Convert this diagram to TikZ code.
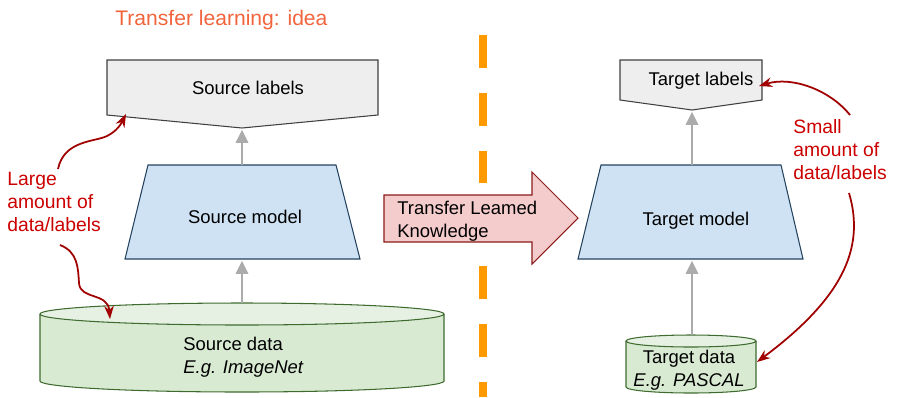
\documentclass[tikz,border=0pt]{standalone}
\usepackage{fontspec}
\setmainfont{Liberation Sans}
\usetikzlibrary{arrows.meta}

\definecolor{titleorange}{HTML}{F2643C}
\definecolor{notered}{HTML}{CC0000}
\definecolor{curvered}{HTML}{A00000}
\definecolor{splitorange}{HTML}{FF9900}
\definecolor{labelgray}{HTML}{EEEEEE}
\definecolor{modelblue}{HTML}{CFE2F3}
\definecolor{modeledge}{HTML}{24435F}
\definecolor{datagreen}{HTML}{D9EAD3}
\definecolor{datatop}{HTML}{E7F1E3}
\definecolor{dataedge}{HTML}{3E6B2E}
\definecolor{transferpink}{HTML}{F4CCCC}
\definecolor{transferedge}{HTML}{8B1A1A}
\definecolor{flowgray}{HTML}{ABABAB}

\tikzset{
	labelshape/.style={draw=black!75, fill=labelgray, line width=0.6pt},
	modelshape/.style={draw=modeledge, fill=modelblue, line width=0.6pt},
	datashape/.style={draw=dataedge, fill=datagreen, line width=0.6pt},
	datalid/.style={draw=dataedge, fill=datatop, line width=0.6pt},
	boxtext/.style={inner sep=0pt, font=\fontsize{10.5}{13}\selectfont},
	notetext/.style={inner sep=0pt, text=notered, align=left, font=\fontsize{11}{13}\selectfont},
	flowarrow/.style={draw=flowgray, line width=1.3pt, -{Triangle[length=7.5pt,width=7pt]}, shorten >=1pt},
	notearrow/.style={draw=curvered, line width=1pt, -{Stealth[length=7.5pt,width=5.5pt,fill=red!85!black]}}
}

\begin{document}
\begin{tikzpicture}[x=0.02cm,y=-0.02cm]
	\useasboundingbox (0,0) rectangle (909,397);

	\node[anchor=base west, inner sep=0pt, text=titleorange, font=\fontsize{12}{14}\selectfont] (title) at (115,25) {Transfer learning: idea};

	% split between the two tasks
	\draw[splitorange, line width=4.5pt, dash pattern=on 18.7pt off 14.2pt] (483,35) -- (483,397);

	% source side
	\draw[labelshape] (107,60) -- (378,60) -- (378,115) -- (242,128) -- (107,115) -- cycle;
	\draw[modelshape] (148,165) -- (336,165) -- (360,259) -- (125,259) -- cycle;
	\draw[datashape] (40,314) -- (40,381) arc[start angle=180, end angle=0, x radius=202, y radius=11] -- (444,314);
	\draw[datalid] (242,314) ellipse [x radius=202, y radius=11];

	\node[boxtext, anchor=base] (srclabels) at (248,94) {Source labels};
	\node[boxtext, anchor=base] (srcmodel) at (245,223) {Source model};
	% base of a two-line node sits on its last line
	\node[boxtext, anchor=base west, align=left] (srcdata) at (183,373) {Source data\\\textit{E.g. ImageNet}};

	\coordinate (srclabelstip) at (242,128);
	\coordinate (srcmodeltop) at (242,165);
	\coordinate (srcmodelbot) at (242,259);
	\coordinate (srcdatatop) at (242,303);
	\draw[flowarrow] (srcmodeltop) -- (srclabelstip);
	\draw[flowarrow] (srcdatatop) -- (srcmodelbot);

	% target side
	\draw[labelshape] (620,60) -- (762,60) -- (762,100) -- (692,110) -- (620,100) -- cycle;
	\draw[modelshape] (601,165) -- (781,165) -- (803,259) -- (578,259) -- cycle;
	\draw[datashape] (626,341) -- (626,387) arc[start angle=180, end angle=0, x radius=65, y radius=6] -- (756,341);
	\draw[datalid] (691,341) ellipse [x radius=65, y radius=6];

	\node[boxtext, anchor=base] (tgtlabels) at (701,85) {Target labels};
	\node[boxtext, anchor=base] (tgtmodel) at (696,225) {Target model};
	\node[boxtext, anchor=base, align=center] (tgtdata) at (689,386) {Target data\\\textit{E.g. PASCAL}};

	\coordinate (tgtlabelstip) at (692,110);
	\coordinate (tgtmodeltop) at (692,165);
	\coordinate (tgtmodelbot) at (692,259);
	\coordinate (tgtdatatop) at (692,335);
	\draw[flowarrow] (tgtmodeltop) -- (tgtlabelstip);
	\draw[flowarrow] (tgtdatatop) -- (tgtmodelbot);

	% knowledge transfer arrow
	\draw[fill=transferpink, draw=transferedge, line width=0.6pt] (384,195) -- (532,195) -- (532,172) -- (578,218) -- (532,264) -- (532,242) -- (384,242) -- cycle;
	\node[boxtext, anchor=base west, align=left] (transfer) at (397,237) {Transfer Leamed\\Knowledge};

	% notes on the amount of data
	\node[notetext, anchor=base west] (large) at (7,231) {Large\\amount of\\data/labels};
	\node[notetext, anchor=base west] (small) at (793,179) {Small\\amount of\\data/labels};

	\coordinate (largeup) at (58,169);
	\coordinate (largedown) at (60,245);
	\coordinate (srclabelscorner) at (126,114);
	\coordinate (srclidedge) at (110,319);
	\coordinate (smallup) at (850,115);
	\coordinate (smalldown) at (849,193);
	\coordinate (tgtlabelsside) at (759,86);
	\coordinate (tgtdataside) at (757,362);

	\draw[notearrow] (largeup) .. controls (64,140) and (95,142) .. (107,136) .. controls (117,131) and (121,124) .. (srclabelscorner);
	\draw[notearrow] (largedown) .. controls (78,252) and (78,268) .. (79,283) .. controls (80,300) and (108,292) .. (srclidedge);
	\draw[notearrow] (smallup) .. controls (830,90) and (792,76) .. (tgtlabelsside);
	\draw[notearrow] (smalldown) .. controls (866,250) and (840,300) .. (tgtdataside);
\end{tikzpicture}
\end{document}
